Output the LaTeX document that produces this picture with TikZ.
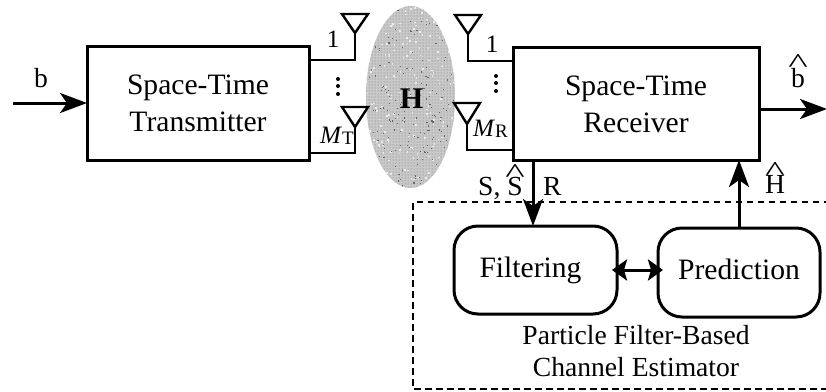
\documentclass[tikz,border=0pt]{standalone}
\usepackage{graphicx}
\usepackage{fontspec}
\setmainfont{Liberation Serif}
\usetikzlibrary{arrows.meta,patterns}
\tikzset{
  blockbox/.style={draw,line width=3pt,inner sep=0pt,align=center,font=\fontsize{29.6}{37}\selectfont},
  softbox/.style={blockbox,rounded corners=24pt,text height=20.5pt,text depth=6.5pt},
  wire/.style={line width=2.8pt},
  sig/.style={line width=3pt,-{Stealth[length=27pt,width=20pt,inset=7pt]}},
  both/.style={line width=3pt,{Stealth[length=15pt,width=21pt,inset=3pt]}-{Stealth[length=15pt,width=21pt,inset=3pt]}},
  lab/.style={inner sep=0pt,anchor=base,font=\fontsize{27.6}{32}\selectfont},
  mlab/.style={inner sep=0pt,anchor=base west,font=\fontsize{25}{27}\selectfont},
  ant/.style={draw,line width=2.4pt,line join=miter},
}
\newcommand{\hatover}[2]{\leavevmode\setbox0\hbox{#2}\hbox to \wd0{\hss\raisebox{#1}[0pt][0pt]{\scalebox{1.5}[1]{\^{}}}\hss}\kern-\wd0\box0}
\begin{document}
\begin{tikzpicture}[x=1pt,y=-1pt]
\useasboundingbox (0,0) rectangle (826,391);
\clip (0,0) rectangle (826,391);
% channel cloud
\begin{scope}
\clip (410.5,97) ellipse [x radius=44.5,y radius=91];
\fill[gray!42] (360,0) rectangle (460,195);
\fill[pattern=dots,pattern color=black!55] (360,0) rectangle (460,195);
\pgfmathsetseed{7}
\foreach \i in {1,...,220}{
  \pgfmathsetmacro{\rx}{410+46*rand}
  \pgfmathsetmacro{\ry}{97+92*rand}
  \fill[black!60] (\rx,\ry) rectangle +(1.1,1.1);
  \pgfmathsetmacro{\sx}{410+46*rand}
  \pgfmathsetmacro{\sy}{97+92*rand}
  \fill[white!85!gray] (\sx,\sy) rectangle +(1.6,1.6);
}
\end{scope}
\node[inner sep=0pt,anchor=base,font=\fontsize{30}{30}\selectfont\bfseries] (H) at (411.5,108) {H};
% blocks
\node[blockbox,minimum width=222pt,minimum height=114pt] (tx) at (198,103) {Space-Time\\Transmitter};
\node[blockbox,minimum width=246pt,minimum height=113pt] (rx) at (636,104) {Space-Time\\Receiver};
\node[softbox,minimum width=163pt,minimum height=88pt] (filt) at (535.5,270) {\hspace*{-10pt}Filtering};
\node[softbox,minimum width=162pt,minimum height=89pt] (pred) at (739,272.5) {Prediction};
% dashed estimator frame
\coordinate (dA) at (830,202);
\coordinate (dB) at (413,202);
\coordinate (dC) at (413,389);
\coordinate (dD) at (830,389);
\draw[line width=2.8pt,dash pattern=on 6.5pt off 4.5pt] (dA) -- (dB) -- (dC) -- (dD);
\node[lab,align=center,anchor=center] (pf) at (636,351) {Particle Filter-Based\\Channel Estimator};
% antennas
\coordinate (t1) at (355,33); \coordinate (tm) at (355,127);
\coordinate (r1) at (468,34); \coordinate (rm) at (467,124);
\draw[ant] (342,14) -- (368,14) -- (t1) -- cycle;
\draw[ant] (342,107) -- (368,107) -- (tm) -- cycle;
\draw[ant] (455,15) -- (481,15) -- (r1) -- cycle;
\draw[ant] (454,103) -- (480,103) -- (rm) -- cycle;
\coordinate (t1b) at (310,60); \coordinate (tmb) at (310,153);
\coordinate (r1b) at (512,61); \coordinate (rmb) at (512,150);
\draw[wire] (t1) |- (t1b);
\draw[wire] (tm) |- (tmb);
\draw[wire] (r1) |- (r1b);
\draw[wire] (rm) |- (rmb);
\node[lab,font=\fontsize{25}{27}\selectfont] (n1t) at (333,47) {1};
\node[lab,font=\fontsize{25}{27}\selectfont] (n1r) at (492,52) {1};
\node[mlab] (mt) at (320,143) {\textit{M}\fontsize{19}{19}\selectfont\raisebox{-1pt}{T}};
\node[mlab] (mr) at (473,136) {\textit{M}\fontsize{19}{19}\selectfont\raisebox{-1pt}{R}};
\foreach \n/\x/\y in {a/338/79,b/338/86,c/338/94,d/496/76,e/496/83,f/496/91}
  \fill (\x,\y) circle (2pt);
% signals
\coordinate (in) at (13,103);
\coordinate (inT) at (87,103);
\coordinate (outR) at (759,109);
\coordinate (out) at (827,109);
\coordinate (sTop) at (533,160);
\coordinate (sEnd) at (533,226);
\coordinate (hBot) at (739,228);
\coordinate (hEnd) at (739,160);
\coordinate (fE) at (612,270);
\coordinate (pW) at (663,270);
\draw[sig] (in) -- (inT);
\draw[sig] (outR) -- (out);
\draw[sig] (sTop) -- (sEnd);
\draw[sig] (hBot) -- (hEnd);
\draw[both] (fE) -- (pW);
\node[lab] (b) at (41,87) {b};
\node[lab] (bh) at (798,87) {\hatover{15pt}{b}};
\node[lab,anchor=base west] (s) at (478,195) {S, \hatover{13pt}{S}};
\node[lab,anchor=base west] (r) at (543,195) {R};
\node[lab] (hh) at (775,193) {\hatover{13pt}{H}};
\end{tikzpicture}
\end{document}
